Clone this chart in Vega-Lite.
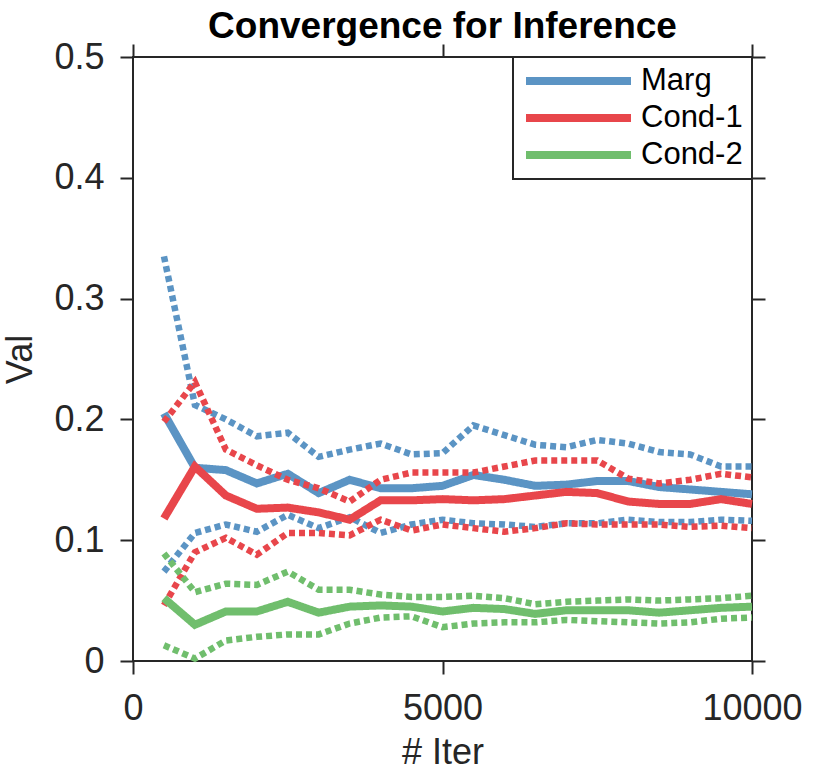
{
  "$schema": "https://vega.github.io/schema/vega-lite/v6.json",
  "autosize": "none",
  "width": 619,
  "height": 604,
  "padding": {"left": 133, "top": 57, "right": 78, "bottom": 112},
  "background": "white",
  "title": {"text": "Convergence for Inference", "font": "Liberation Sans", "fontSize": 37, "fontWeight": "bold", "color": "black", "offset": -36, "anchor": "middle", "baseline": "alphabetic"},
  "config": {
    "view": {"stroke": "#262626", "strokeWidth": 2},
    "axis": {"labelFont": "Liberation Sans", "titleFont": "Liberation Sans", "labelFontSize": 36, "titleFontSize": 36, "labelColor": "#262626", "titleColor": "#262626", "titleFontWeight": "normal", "grid": false, "domain": false, "tickColor": "#262626", "tickWidth": 2, "tickSize": 13}
  },
  "datasets": {
    "d": [
      {"x": 500, "series": "Marg", "mean": 0.205, "upper": 0.335, "lower": 0.074},
      {"x": 1000, "series": "Marg", "mean": 0.160, "upper": 0.212, "lower": 0.106},
      {"x": 1500, "series": "Marg", "mean": 0.158, "upper": 0.200, "lower": 0.113},
      {"x": 2000, "series": "Marg", "mean": 0.147, "upper": 0.186, "lower": 0.107},
      {"x": 2500, "series": "Marg", "mean": 0.155, "upper": 0.189, "lower": 0.121},
      {"x": 3000, "series": "Marg", "mean": 0.139, "upper": 0.169, "lower": 0.110},
      {"x": 3500, "series": "Marg", "mean": 0.150, "upper": 0.175, "lower": 0.119},
      {"x": 4000, "series": "Marg", "mean": 0.143, "upper": 0.180, "lower": 0.106},
      {"x": 4500, "series": "Marg", "mean": 0.143, "upper": 0.171, "lower": 0.113},
      {"x": 5000, "series": "Marg", "mean": 0.145, "upper": 0.172, "lower": 0.117},
      {"x": 5500, "series": "Marg", "mean": 0.154, "upper": 0.195, "lower": 0.114},
      {"x": 6000, "series": "Marg", "mean": 0.150, "upper": 0.187, "lower": 0.113},
      {"x": 6500, "series": "Marg", "mean": 0.145, "upper": 0.179, "lower": 0.111},
      {"x": 7000, "series": "Marg", "mean": 0.146, "upper": 0.177, "lower": 0.114},
      {"x": 7500, "series": "Marg", "mean": 0.149, "upper": 0.183, "lower": 0.114},
      {"x": 8000, "series": "Marg", "mean": 0.149, "upper": 0.180, "lower": 0.117},
      {"x": 8500, "series": "Marg", "mean": 0.144, "upper": 0.173, "lower": 0.115},
      {"x": 9000, "series": "Marg", "mean": 0.142, "upper": 0.171, "lower": 0.115},
      {"x": 9500, "series": "Marg", "mean": 0.140, "upper": 0.161, "lower": 0.117},
      {"x": 10000, "series": "Marg", "mean": 0.138, "upper": 0.161, "lower": 0.116},
      {"x": 500, "series": "Cond-1", "mean": 0.118, "upper": 0.198, "lower": 0.046},
      {"x": 1000, "series": "Cond-1", "mean": 0.161, "upper": 0.231, "lower": 0.090},
      {"x": 1500, "series": "Cond-1", "mean": 0.137, "upper": 0.175, "lower": 0.102},
      {"x": 2000, "series": "Cond-1", "mean": 0.126, "upper": 0.162, "lower": 0.088},
      {"x": 2500, "series": "Cond-1", "mean": 0.127, "upper": 0.150, "lower": 0.106},
      {"x": 3000, "series": "Cond-1", "mean": 0.123, "upper": 0.143, "lower": 0.106},
      {"x": 3500, "series": "Cond-1", "mean": 0.117, "upper": 0.132, "lower": 0.104},
      {"x": 4000, "series": "Cond-1", "mean": 0.133, "upper": 0.150, "lower": 0.117},
      {"x": 4500, "series": "Cond-1", "mean": 0.133, "upper": 0.156, "lower": 0.108},
      {"x": 5000, "series": "Cond-1", "mean": 0.134, "upper": 0.156, "lower": 0.113},
      {"x": 5500, "series": "Cond-1", "mean": 0.133, "upper": 0.156, "lower": 0.110},
      {"x": 6000, "series": "Cond-1", "mean": 0.134, "upper": 0.161, "lower": 0.107},
      {"x": 6500, "series": "Cond-1", "mean": 0.137, "upper": 0.166, "lower": 0.110},
      {"x": 7000, "series": "Cond-1", "mean": 0.140, "upper": 0.166, "lower": 0.114},
      {"x": 7500, "series": "Cond-1", "mean": 0.139, "upper": 0.166, "lower": 0.113},
      {"x": 8000, "series": "Cond-1", "mean": 0.132, "upper": 0.151, "lower": 0.113},
      {"x": 8500, "series": "Cond-1", "mean": 0.130, "upper": 0.147, "lower": 0.113},
      {"x": 9000, "series": "Cond-1", "mean": 0.130, "upper": 0.150, "lower": 0.111},
      {"x": 9500, "series": "Cond-1", "mean": 0.134, "upper": 0.155, "lower": 0.112},
      {"x": 10000, "series": "Cond-1", "mean": 0.130, "upper": 0.152, "lower": 0.110},
      {"x": 500, "series": "Cond-2", "mean": 0.052, "upper": 0.089, "lower": 0.013},
      {"x": 1000, "series": "Cond-2", "mean": 0.030, "upper": 0.057, "lower": 0.002},
      {"x": 1500, "series": "Cond-2", "mean": 0.041, "upper": 0.064, "lower": 0.017},
      {"x": 2000, "series": "Cond-2", "mean": 0.041, "upper": 0.063, "lower": 0.020},
      {"x": 2500, "series": "Cond-2", "mean": 0.049, "upper": 0.074, "lower": 0.022},
      {"x": 3000, "series": "Cond-2", "mean": 0.040, "upper": 0.059, "lower": 0.022},
      {"x": 3500, "series": "Cond-2", "mean": 0.045, "upper": 0.059, "lower": 0.031},
      {"x": 4000, "series": "Cond-2", "mean": 0.046, "upper": 0.055, "lower": 0.036},
      {"x": 4500, "series": "Cond-2", "mean": 0.045, "upper": 0.053, "lower": 0.037},
      {"x": 5000, "series": "Cond-2", "mean": 0.041, "upper": 0.053, "lower": 0.028},
      {"x": 5500, "series": "Cond-2", "mean": 0.044, "upper": 0.054, "lower": 0.031},
      {"x": 6000, "series": "Cond-2", "mean": 0.043, "upper": 0.052, "lower": 0.032},
      {"x": 6500, "series": "Cond-2", "mean": 0.039, "upper": 0.047, "lower": 0.032},
      {"x": 7000, "series": "Cond-2", "mean": 0.042, "upper": 0.049, "lower": 0.034},
      {"x": 7500, "series": "Cond-2", "mean": 0.042, "upper": 0.050, "lower": 0.033},
      {"x": 8000, "series": "Cond-2", "mean": 0.042, "upper": 0.051, "lower": 0.032},
      {"x": 8500, "series": "Cond-2", "mean": 0.040, "upper": 0.050, "lower": 0.031},
      {"x": 9000, "series": "Cond-2", "mean": 0.042, "upper": 0.051, "lower": 0.032},
      {"x": 9500, "series": "Cond-2", "mean": 0.044, "upper": 0.052, "lower": 0.035},
      {"x": 10000, "series": "Cond-2", "mean": 0.045, "upper": 0.054, "lower": 0.036}
    ]
  },
  "data": {"name": "d"},
  "transform": [{"fold": ["mean", "upper", "lower"], "as": ["kind", "v"]}],
  "resolve": {"axis": {"x": "independent", "y": "independent"}},
  "layer": [
    {
      "mark": {"type": "line", "clip": false},
      "encoding": {
        "x": {"field": "x", "type": "quantitative", "scale": {"domain": [0, 10000], "nice": false, "zero": false}, "axis": {"values": [0, 5000, 10000], "format": "d", "title": "# Iter", "labelPadding": 17, "titlePadding": 9, "labelFlush": false}},
        "y": {"field": "v", "type": "quantitative", "scale": {"domain": [0, 0.5], "nice": false}, "axis": {"values": [0, 0.1, 0.2, 0.3, 0.4, 0.5], "title": "Val", "labelPadding": 16, "titlePadding": 14, "format": "~g"}},
        "color": {"field": "series", "type": "nominal", "scale": {"domain": ["Marg", "Cond-1", "Cond-2"], "range": ["#5b94c4", "#e8464b", "#70be6d"]}, "sort": null,
          "legend": {"title": null, "orient": "none", "legendX": 380, "legendY": 0, "symbolType": "stroke", "symbolStrokeWidth": 8, "symbolSize": 11025, "clipHeight": 30, "labelFont": "Liberation Sans", "labelFontSize": 31, "labelColor": "black", "labelOffset": 6, "fillColor": "white", "strokeColor": "#262626", "padding": 9, "rowPadding": 6,
            "encode": {"legend": {"update": {"strokeWidth": {"value": 2}}}}}},
        "detail": {"field": "kind", "type": "nominal"},
        "strokeDash": {"field": "kind", "type": "nominal", "scale": {"type": "ordinal", "domain": ["mean", "upper", "lower"], "range": [[1, 0], [6, 4], [6, 4]]}, "legend": null},
        "strokeWidth": {"field": "kind", "type": "nominal", "scale": {"type": "ordinal", "domain": ["mean", "upper", "lower"], "range": [8, 6.5, 6.5]}, "legend": null}
      }
    },
    {
      "mark": {"type": "point", "opacity": 0},
      "encoding": {
        "x": {"field": "x", "type": "quantitative", "axis": {"orient": "top", "values": [0, 5000, 10000], "labels": false, "title": null}},
        "y": {"field": "v", "type": "quantitative", "axis": {"orient": "right", "values": [0, 0.1, 0.2, 0.3, 0.4, 0.5], "labels": false, "title": null}}
      }
    }
  ]
}
